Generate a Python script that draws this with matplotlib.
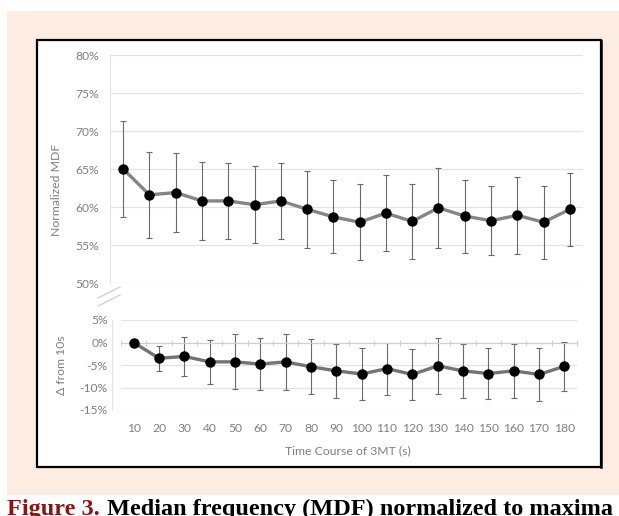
import matplotlib
matplotlib.use("Agg")
import matplotlib.pyplot as plt
from matplotlib.patches import Rectangle
from matplotlib.lines import Line2D
from matplotlib.ticker import PercentFormatter, FixedLocator

plt.rcParams["font.family"] = ["Lato", "DejaVu Sans"]
plt.rcParams["axes.unicode_minus"] = False

# values (mean and SD, percent)
time_s = [10, 20, 30, 40, 50, 60, 70, 80, 90, 100, 110, 120, 130, 140, 150, 160, 170, 180]
mdf = [65.0, 61.6, 61.9, 60.8, 60.8, 60.3, 60.8, 59.7, 58.7, 58.0, 59.2, 58.1, 59.9, 58.8, 58.2, 58.9, 58.0, 59.7]
mdf_sd = [6.3, 5.7, 5.2, 5.1, 5.0, 5.05, 5.05, 5.1, 4.8, 5.0, 5.05, 4.9, 5.25, 4.8, 4.55, 5.1, 4.8, 4.8]
delta = [0.0, -3.5, -3.1, -4.3, -4.3, -4.8, -4.3, -5.4, -6.3, -7.0, -5.8, -7.1, -5.2, -6.3, -6.9, -6.3, -7.1, -5.3]
delta_sd = [0.0, 2.8, 4.3, 4.95, 6.1, 5.85, 6.3, 6.15, 6.0, 5.8, 5.8, 5.7, 6.2, 5.95, 5.6, 6.05, 5.85, 5.45]

upper_ticks = [50, 55, 60, 65, 70, 75, 80]
lower_ticks = [-15, -10, -5, 0, 5]

W, H = 619, 516
fig = plt.figure(figsize=(W / 100, H / 100), dpi=100)
fig.patch.set_facecolor("white")


def fx(px):
    return px / W


def fy(py):
    return 1 - py / H


# pink page background and white framed box
fig.add_artist(Rectangle((fx(7), fy(495)), fx(612), (495 - 11) / H, transform=fig.transFigure,
                         facecolor="#fcece2", edgecolor="none", zorder=-3))
fig.add_artist(Rectangle((fx(37), fy(467)), fx(564), (467 - 40) / H, transform=fig.transFigure,
                         facecolor="white", edgecolor="black", linewidth=1.6, zorder=-2))
fig.add_artist(Line2D([fx(601), fx(601)], [fy(467), fy(41)], transform=fig.transFigure,
                      color="black", linewidth=1.8, zorder=-1))
fig.add_artist(Line2D([fx(38), fx(601)], [fy(467), fy(467)], transform=fig.transFigure,
                      color="black", linewidth=1.4, zorder=-1))

idx = list(range(1, len(time_s) + 1))
grid_c = "#e3e3e3"
tick_c = "#7f7f7f"

# ---- upper panel: normalized MDF ----
ax1 = fig.add_axes([fx(110), fy(283), fx(583 - 110), (283 - 55) / H])
ax1.set_facecolor("none")
ax1.errorbar(idx, mdf, yerr=mdf_sd, fmt="none", ecolor="#6a6a6a", elinewidth=0.8,
             capsize=2.4, capthick=0.8, zorder=2)
ax1.plot(idx, mdf, color="#858585", linewidth=2.4, zorder=3)
ax1.plot(idx, mdf, "o", color="black", markersize=6.5, zorder=4)
ax1.set_xlim(0.5, len(time_s) + 0.5)
ax1.set_ylim(50, 80)
ax1.set_yticks(upper_ticks)
ax1.yaxis.set_major_formatter(PercentFormatter(decimals=0))
ax1.set_xticks([])
ax1.grid(axis="y", color=grid_c, linewidth=0.9)
ax1.set_axisbelow(True)
for s in ["top", "right", "bottom"]:
    ax1.spines[s].set_visible(False)
ax1.spines["left"].set_color(grid_c)
ax1.tick_params(axis="y", length=0, pad=8, labelsize=8.7, labelcolor=tick_c)
ax1.set_ylabel("Normalized MDF", fontsize=8.8, color=tick_c)
ax1.yaxis.set_label_coords(-0.101, 0.41)

# ---- lower panel: change from 10 s ----
ax2 = fig.add_axes([fx(121), fy(410), fx(577 - 121), (410 - 320) / H])
ax2.set_facecolor("none")
ax2.errorbar(idx, delta, yerr=delta_sd, fmt="none", ecolor="#6a6a6a", elinewidth=0.8,
             capsize=2.4, capthick=0.8, zorder=2)
ax2.plot(idx, delta, color="#747474", linewidth=2.4, zorder=3)
ax2.plot(idx, delta, "o", color="black", markersize=6.5, zorder=4)
ax2.set_xlim(0.5, len(time_s) + 0.5)
ax2.set_ylim(-15, 5)
ax2.set_yticks(lower_ticks)
ax2.yaxis.set_major_formatter(PercentFormatter(decimals=0))
ax2.set_xticks(idx)
ax2.set_xticklabels([str(t) for t in time_s])
ax2.xaxis.set_minor_locator(FixedLocator([i + 0.5 for i in range(len(time_s) + 1)]))
ax2.grid(axis="y", color=grid_c, linewidth=0.9)
ax2.set_axisbelow(True)
ax2.spines["right"].set_visible(False)
ax2.spines["bottom"].set_visible(False)
ax2.spines["top"].set_position(("data", 0))
ax2.spines["top"].set_color("#cfcfcf")
ax2.spines["left"].set_position(("outward", 6.5))
ax2.spines["left"].set_color(grid_c)
ax2.tick_params(axis="x", which="major", length=0, pad=9.5, labelsize=8.7, labelcolor=tick_c,
                top=False, bottom=True, labeltop=False, labelbottom=True)
ax2.tick_params(axis="x", which="minor", top=True, bottom=False, direction="inout",
                length=4, width=0.7, color="#cfcfcf")
ax2.tick_params(axis="y", length=0, pad=3, labelsize=8.7, labelcolor=tick_c)
ax2.set_ylabel("\u0394 from 10s", fontsize=8.8, color=tick_c)
ax2.yaxis.set_label_coords(-0.118, 0.5)

# axis break marks
for y0 in (298, 306):
    fig.add_artist(Line2D([fx(98), fx(120)], [fy(y0), fy(y0 - 11)], transform=fig.transFigure,
                          color="#d0d0d0", linewidth=0.9))

fig.text(fx(348), fy(451), "Time Course of 3MT (s)", ha="center", va="center",
         fontsize=8.8, color=tick_c)

# caption (cut off at the bottom and right edges, as in the source)
cap_kw = dict(ha="left", va="baseline", fontsize=17.5, fontweight="bold", family="Liberation Serif")
t1 = fig.text(fx(7), fy(515), "Figure 3.", color="#8b1515", **cap_kw)
fig.canvas.draw()
right_px = t1.get_window_extent(fig.canvas.get_renderer()).x1
fig.text(right_px / W + fx(7), fy(515), "Median frequency (MDF) normalized to maxima",
         color="black", **cap_kw)

fig.savefig("out.png", dpi=100)
